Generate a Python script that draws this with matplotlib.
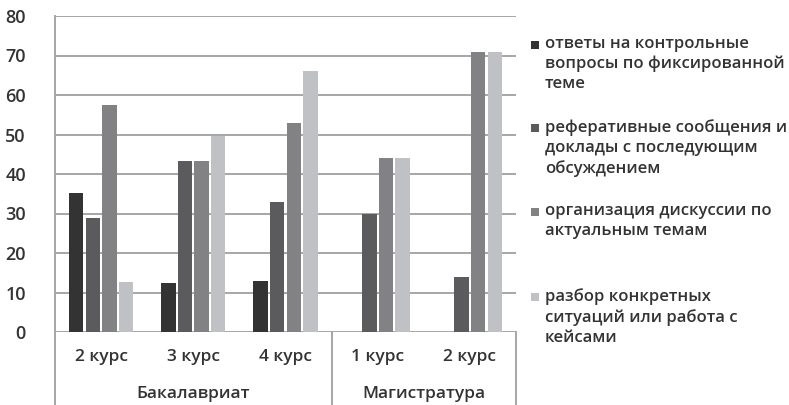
import matplotlib
matplotlib.use("Agg")
import matplotlib.pyplot as plt
from matplotlib.patches import Rectangle
import numpy as np

plt.rcParams['font.family'] = ['Open Sans', 'DejaVu Sans']

courses = ["2 курс", "3 курс", "4 курс", "1 курс", "2 курс"]
groups = ["Бакалавриат", "Магистратура"]
group_sizes = [3, 2]
series_names = [
    "ответы на контрольные\nвопросы по фиксированной\nтеме",
    "реферативные сообщения и\nдоклады с последующим\nобсуждением",
    "организация дискуссии по\nактуальным темам",
    "разбор конкретных\nситуаций или работа с\nкейсами",
]
s1 = [35.2, 12.3, 12.9, 0, 0]
s2 = [28.9, 43.4, 32.9, 29.8, 13.9]
s3 = [57.5, 43.4, 52.8, 44.1, 70.9]
s4 = [12.6, 49.7, 66.2, 44.1, 70.9]
series = [s1, s2, s3, s4]
colors = ["#333333", "#5b5b5d", "#828285", "#c0c1c4"]
yticks = [0, 10, 20, 30, 40, 50, 60, 70, 80]

text_color = "#333333"
grid_color = "#a6a6a6"
fw = "semibold"

fig = plt.figure(figsize=(7.89, 4.05), dpi=100)
ax = fig.add_axes([55/789, 1-332/405, (516-55)/789, (332-16)/405])

x = np.arange(len(courses))
step = 0.18
bw = 0.157
for i, (vals, c) in enumerate(zip(series, colors)):
    ax.bar(x + (i - 1.5) * step, vals, width=bw, color=c, zorder=3)

ax.set_xlim(-0.5, len(courses) - 0.5)
ax.set_ylim(0, 80)
ax.set_yticks(yticks)
ax.set_yticklabels([str(t) for t in yticks], fontweight=fw)
ax.yaxis.grid(True, color=grid_color, linewidth=1.4, zorder=0)
ax.set_axisbelow(True)
for side in ["top", "right", "bottom"]:
    ax.spines[side].set_visible(False)
ax.spines["left"].set_color(grid_color)
ax.spines["left"].set_linewidth(1.4)
ax.tick_params(axis="y", length=0, pad=21, labelsize=13, labelcolor=text_color)
ax.set_xticks([])

# category labels
for xi, lab in zip(x, courses):
    ax.text(xi, -0.08, lab, transform=ax.get_xaxis_transform(), ha="center", va="center",
            fontsize=12.5, color=text_color, fontweight=fw)

# group labels and separators
start = 0
bounds = [-0.5]
for g, n in zip(groups, group_sizes):
    center = start + (n - 1) / 2
    ax.text(center, -0.195, g, transform=ax.get_xaxis_transform(), ha="center", va="center",
            fontsize=12.5, color=text_color, fontweight=fw)
    start += n
    bounds.append(start - 0.5)
for b in bounds:
    ax.plot([b, b], [0, -0.23], transform=ax.get_xaxis_transform(), color=grid_color,
            linewidth=1.4, clip_on=False)

# legend
ys = [45, 128, 212, 297]
for name, c, yy in zip(series_names, colors, ys):
    fig.patches.append(Rectangle((531/789, 1-(yy+4)/405), 8/789, 8/405,
                                 transform=fig.transFigure, facecolor=c, edgecolor="none"))
    fig.text(545/789, 1-(yy-9)/405, name, ha="left", va="top", fontsize=12,
             color=text_color, linespacing=1.32, fontweight=fw)

fig.savefig("out.png", dpi=100)
